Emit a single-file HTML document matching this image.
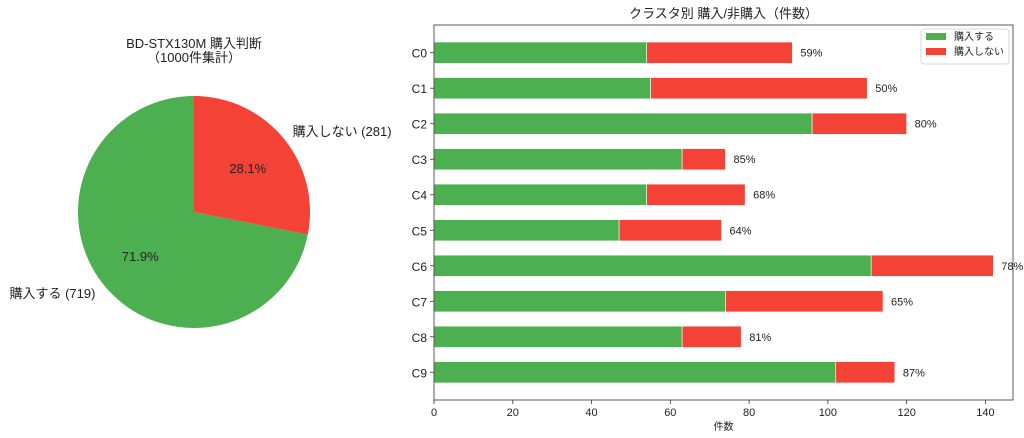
<!DOCTYPE html>
<html><head><meta charset="utf-8">
<style>
html,body{margin:0;padding:0;background:#fff;}
svg{display:block;font-family:"Liberation Sans","Noto Sans CJK JP",sans-serif;}
</style></head>
<body>
<svg id="chart" width="1024" height="438" viewBox="0 0 1024 438" xmlns="http://www.w3.org/2000/svg">
<g id="pie"></g>
<g id="bars"></g>
</svg>
<script>
const pieLabels = ["購入する", "購入しない"];
const pieValues = [719, 281];
const pieColors = ["#4caf50", "#f44336"];
const categories = ["C0","C1","C2","C3","C4","C5","C6","C7","C8","C9"];
const buyValues = [54, 55, 96, 63, 54, 47, 111, 74, 63, 102];
const noBuyValues = [37, 55, 24, 11, 25, 26, 31, 40, 15, 15];
const xTicks = [0, 20, 40, 60, 80, 100, 120, 140];

const NS = "http://www.w3.org/2000/svg";
function mk(tag, attrs, parent, text){
  const e = document.createElementNS(NS, tag);
  for (const k in attrs) e.setAttribute(k, attrs[k]);
  if (text !== undefined) e.textContent = text;
  parent.appendChild(e);
  return e;
}
const txt = "#222";

// ---- Pie ----
const pie = document.getElementById("pie");
const cx = 194, cy = 212, r = 116;
let t1 = mk("text", {x:cx, y:48, "text-anchor":"middle", "font-size":13, fill:txt}, pie, "BD-STX130M 購入判断");


let t2 = mk("text", {x:cx, y:62, "text-anchor":"middle", "font-size":13, fill:txt}, pie, "（1000件集計）");


const total = pieValues.reduce((a,b)=>a+b,0);
let ang = 90;
pieValues.forEach((v,i)=>{
  const sweep = v/total*360;
  const a0 = ang*Math.PI/180, a1 = (ang+sweep)*Math.PI/180;
  const x0 = cx + r*Math.cos(a0), y0 = cy - r*Math.sin(a0);
  const x1 = cx + r*Math.cos(a1), y1 = cy - r*Math.sin(a1);
  const large = sweep > 180 ? 1 : 0;
  const p = mk("path", {d:`M${cx},${cy} L${x0},${y0} A${r},${r} 0 ${large} 0 ${x1},${y1} Z`, fill:pieColors[i]}, pie);
  
  
  const mid = (ang + sweep/2)*Math.PI/180;
  const pct = mk("text", {x:cx + 0.6*r*Math.cos(mid), y:cy - 0.6*r*Math.sin(mid) + 5, "text-anchor":"middle", "font-size":13, fill:txt}, pie, (v/total*100).toFixed(1)+"%");
  
  
  const lx = cx + 1.1*r*Math.cos(mid), ly = cy - 1.1*r*Math.sin(mid);
  const lab = mk("text", {x:lx, y:ly + 5, "text-anchor": Math.cos(mid) >= 0 ? "start" : "end", "font-size":13, fill:txt}, pie, pieLabels[i] + " (" + v + ")");
  
  
  ang += sweep;
});

// ---- Bars ----
const bars = document.getElementById("bars");
const L = 434, R = 1013, T = 25, B = 400;
const xMax = 147;
const xs = v => L + v/xMax*(R-L);
const yMin = -0.78, yMax = 9.78;
const ys = i => T + (i - yMin)/(yMax - yMin)*(B-T);
const bh = 0.6*(B-T)/(yMax-yMin);

let bt = mk("text", {x:(L+R)/2, y:18, "text-anchor":"middle", "font-size":13, fill:txt}, bars, "クラスタ別 購入/非購入（件数）");



categories.forEach((c,i)=>{
  const yc = ys(i);
  const g = mk("rect", {x:xs(0), y:yc-bh/2, width:xs(buyValues[i])-xs(0), height:bh, fill:"#4caf50", stroke:"#fff", "stroke-width":0.6}, bars);
  
  
  const tot = buyValues[i] + noBuyValues[i];
  const rr = mk("rect", {x:xs(buyValues[i]), y:yc-bh/2, width:xs(tot)-xs(buyValues[i]), height:bh, fill:"#f44336", stroke:"#fff", "stroke-width":0.6}, bars);
  
  
  const pl = mk("text", {x:xs(tot)+8, y:yc+4, "font-size":11, fill:txt}, bars, Math.round(buyValues[i]/tot*100) + "%");
  
  
  mk("line", {x1:L-4, x2:L, y1:yc, y2:yc, stroke:"#333", "stroke-width":0.8}, bars);
  const cl = mk("text", {x:L-7, y:yc+5, "text-anchor":"end", "font-size":12, fill:txt}, bars, c);
  
  
});
xTicks.forEach(v=>{
  mk("line", {x1:xs(v), x2:xs(v), y1:B, y2:B+4, stroke:"#333", "stroke-width":0.8}, bars);
  const tl = mk("text", {x:xs(v), y:B+16, "text-anchor":"middle", "font-size":11, fill:txt}, bars, String(v));
  
  
});
const xt = mk("text", {x:(L+R)/2, y:B+30, "text-anchor":"middle", "font-size":10, fill:txt}, bars, "件数");


const frame = mk("rect", {x:L, y:T, width:R-L, height:B-T, fill:"none", stroke:"#333", "stroke-width":0.8}, bars);



// legend
const lg = mk("g", {}, bars);


mk("rect", {x:921, y:29, width:88, height:35, rx:3, fill:"#fff", stroke:"#ccc", "stroke-width":0.8}, lg);
["購入する","購入しない"].forEach((s,i)=>{
  mk("rect", {x:926, y:33+i*15, width:20, height:7, fill:pieColors[i]}, lg);
  const le = mk("text", {x:954, y:40+i*15, "font-size":10, fill:txt}, lg, s);
  
  
});
</script>
</body></html>
